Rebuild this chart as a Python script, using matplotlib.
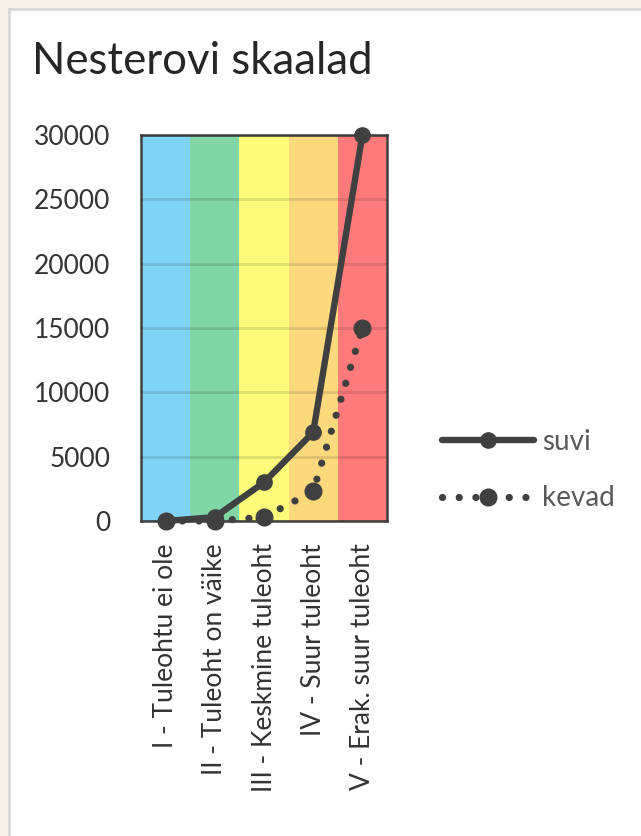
import matplotlib
matplotlib.use("Agg")
import matplotlib.pyplot as plt
from matplotlib.patches import Rectangle
from matplotlib.lines import Line2D

# data
categories = ["I - Tuleohtu ei ole", "II - Tuleoht on väike", "III - Keskmine tuleoht",
              "IV - Suur tuleoht", "V - Erak. suur tuleoht"]
suvi = [0, 300, 3000, 6900, 30000]
kevad = [0, 0, 300, 2300, 15000]
band_colors = ["#7fd4f5", "#80d6a7", "#fcfc7a", "#fdd97d", "#ff7b7b"]
yticks = [0, 5000, 10000, 15000, 20000, 25000, 30000]

plt.rcParams['font.family'] = ['Lato', 'DejaVu Sans']
DARK = "#404040"
TXT = "#333333"
DOTS = (0, (0.01, 2.3))

W, H, DPI = 641, 836, 100
fig = plt.figure(figsize=(W / DPI, H / DPI), dpi=DPI, facecolor="#f3f0e8")

# white card with light grey edge
fig.patches.append(Rectangle((9 / W, -0.01), 1.0, 1 - 9 / H + 0.01, transform=fig.transFigure,
                             facecolor="white", edgecolor="#d9d9d9", linewidth=2, zorder=-5))

fig.text(32 / W, 1 - 62 / H, "Nesterovi skaalad", fontsize=31.5, color="#262626",
         va="center", ha="left")

ax = fig.add_axes([141 / W, 315 / H, 246 / W, 386 / H])
ax.set_zorder(2)
x = list(range(len(categories)))
for i, c in enumerate(band_colors):
    ax.axvspan(i - 0.5, i + 0.5, color=c, zorder=0, lw=0)

ax.set_xlim(-0.5, len(categories) - 0.5)
ax.set_ylim(0, 30000)
ax.set_yticks(yticks)
ax.set_yticklabels([str(v) for v in yticks])
ax.grid(axis="y", color="#000000", alpha=0.12, linewidth=2, zorder=1)
ax.set_axisbelow(False)

ax.plot(x, kevad, color=DARK, linestyle=DOTS, linewidth=5.2,
        dash_capstyle="round", marker="o", markersize=12, zorder=3, clip_on=False)
ax.plot(x, suvi, color=DARK, linewidth=4.6, solid_capstyle="round",
        marker="o", markersize=11, zorder=4, clip_on=False)

ax.set_xticks(x)
ax.set_xticklabels(categories, rotation=90, fontsize=19, color=TXT)
ax.tick_params(axis="y", labelsize=19, labelcolor=TXT, length=0, pad=22)
ax.tick_params(axis="x", length=0, pad=16)
for s in ax.spines.values():
    s.set_color(DARK)
    s.set_linewidth(1.8)
    s.set_zorder(2)

handles = [Line2D([0], [0], color=DARK, linewidth=4.6, solid_capstyle="round",
                  marker="o", markersize=11),
           Line2D([0], [0], color=DARK, linestyle=DOTS, linewidth=5.2,
                  dash_capstyle="round", marker="o", markersize=12)]
fig.legend(handles, ["suvi", "kevad"], loc="center left",
           bbox_to_anchor=(417 / W, 1 - 470 / H), frameon=False, fontsize=20,
           labelcolor="#595959", handlelength=3.3, handletextpad=0.3,
           labelspacing=1.1)

fig.savefig("out.png", dpi=DPI, facecolor=fig.get_facecolor())
